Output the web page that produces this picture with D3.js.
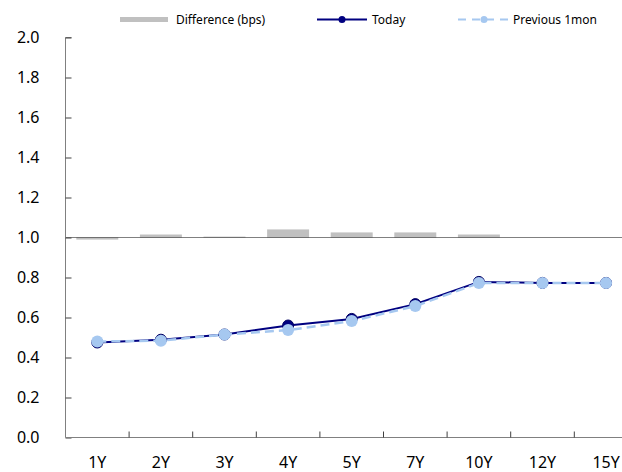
<!DOCTYPE html>
<html><head><meta charset="utf-8">
<script src="https://cdn.jsdelivr.net/npm/d3@7"></script>
<style>html,body{margin:0;padding:0;background:#fff;overflow:hidden}svg{display:block}</style>
</head><body><svg id="c" width="622" height="472"></svg>
<script>
const categories = ["1Y","2Y","3Y","4Y","5Y","7Y","10Y","12Y","15Y"];
const today = [0.475,0.489,0.515,0.560,0.593,0.667,0.778,0.773,0.773];
const previous = [0.480,0.484,0.515,0.537,0.582,0.657,0.772,0.773,0.773];
const diffBps = [-0.7,1.0,0.3,2.7,1.7,1.7,1.0,0,0];
const yTicks = [0,0.2,0.4,0.6,0.8,1.0,1.2,1.4,1.6,1.8,2.0];
const seriesNames = ["Difference (bps)","Today","Previous 1mon"];

(function(){
const svg = d3.select("#c");
const font = "'Noto Sans', 'DejaVu Sans', sans-serif";
const mLeft = 65.5, mTop = 37.5, mBottom = 437.5;
const x = d3.scaleBand().domain(categories).range([mLeft, mLeft + 63.6*9]).paddingInner(0).paddingOuter(0);
const y = d3.scaleLinear().domain([0,2]).range([mBottom, mTop]);
const y2 = d3.scaleLinear().domain([-66.8,66.8]).range([mBottom, mTop]);

// bars
const bw = x.bandwidth()*0.66;
svg.append("g").selectAll("rect").data(categories).join("rect")
  .attr("x", d => x(d) + x.bandwidth()/2 - bw/2)
  .attr("y", (d,i) => Math.min(y2(diffBps[i]), y2(0)))
  .attr("width", bw)
  .attr("height", (d,i) => Math.abs(y2(diffBps[i]) - y2(0)))
  .attr("fill", "#c0c0c0");

// dotted zero line for bars
svg.append("line").attr("x1", mLeft).attr("x2", 622).attr("y1", y2(0)).attr("y2", y2(0))
  .attr("stroke", "#000").attr("stroke-width", 1).attr("stroke-dasharray", "1,1");

// y axis
const yAxis = svg.append("g").attr("transform", `translate(${mLeft},0)`)
  .call(d3.axisRight(y).tickValues(yTicks).tickSize(6).tickFormat(d3.format(".1f")));
yAxis.select(".domain").attr("stroke", "#808080").attr("d", `M6,${mTop}H0V${mBottom}`);
yAxis.selectAll(".tick line").attr("stroke", "#404040");
yAxis.selectAll(".tick text").attr("x", -26).attr("text-anchor", "end")
  .attr("font-family", font).attr("font-size", 16).attr("fill", "#000");

// x axis
const xAxis = svg.append("g").attr("transform", `translate(0,${mBottom})`)
  .call(d3.axisBottom(x).tickSize(0).tickPadding(20));
xAxis.select(".domain").attr("stroke", "#808080").attr("d", `M${mLeft},0H622`);
xAxis.selectAll(".tick text").attr("font-family", font).attr("font-size", 16).attr("fill", "#000").attr("dy", "0.71em").attr("y", 19);
svg.append("g").selectAll("line").data(categories).join("line")
  .attr("x1", (d,i) => mLeft + x.bandwidth()*(i+1)).attr("x2", (d,i) => mLeft + x.bandwidth()*(i+1))
  .attr("y1", mBottom).attr("y2", mBottom-6).attr("stroke", "#404040");

const cx = d => x(d) + x.bandwidth()/2;
// today line
svg.append("path").datum(categories)
  .attr("d", d3.line().x(cx).y((d,i) => y(today[i])))
  .attr("fill","none").attr("stroke","#000080").attr("stroke-width",2);
svg.append("g").selectAll("circle").data(categories).join("circle")
  .attr("cx", cx).attr("cy", (d,i) => y(today[i])).attr("r", 5.5)
  .attr("fill", "#000080").attr("stroke","#000060");
// previous line
svg.append("path").datum(categories)
  .attr("d", d3.line().x(cx).y((d,i) => y(previous[i])))
  .attr("fill","none").attr("stroke","#a6c8f0").attr("stroke-width",2.5).attr("stroke-dasharray","9,5");
svg.append("g").selectAll("circle").data(categories).join("circle")
  .attr("cx", cx).attr("cy", (d,i) => y(previous[i])).attr("r", 6)
  .attr("fill", "#a6c8f0");

// legend
const lg = svg.append("g").attr("font-family", font).attr("font-size", 12).attr("fill","#000");
lg.append("rect").attr("x",120).attr("y",17).attr("width",48).attr("height",5).attr("fill","#c0c0c0");
lg.append("text").attr("x",176).attr("y",24).text(seriesNames[0]);
lg.append("line").attr("x1",317).attr("x2",367).attr("y1",19.5).attr("y2",19.5).attr("stroke","#000080").attr("stroke-width",2);
lg.append("circle").attr("cx",342).attr("cy",19.5).attr("r",3.5).attr("fill","#000080");
lg.append("text").attr("x",372).attr("y",24).text(seriesNames[1]);
lg.append("line").attr("x1",458).attr("x2",508).attr("y1",19.5).attr("y2",19.5).attr("stroke","#a6c8f0").attr("stroke-width",2).attr("stroke-dasharray","8,6");
lg.append("circle").attr("cx",484).attr("cy",19.5).attr("r",3.5).attr("fill","#a6c8f0");
lg.append("text").attr("x",513).attr("y",24).text(seriesNames[2]);
})();
</script></body></html>
